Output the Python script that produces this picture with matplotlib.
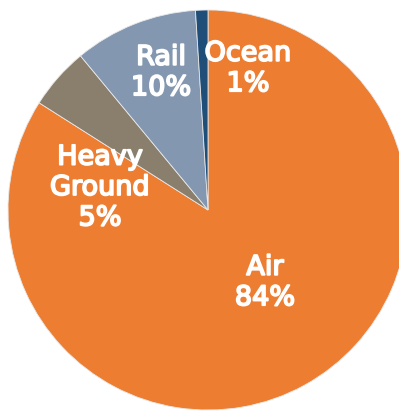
import matplotlib
matplotlib.use("Agg")
import matplotlib.pyplot as plt
import matplotlib.patheffects as pe

# shipment share by transport mode
modes = ["Air", "Heavy\nGround", "Rail", "Ocean"]
shares = [84, 5, 10, 1]
colors = ["#ED7D31", "#8A7F6D", "#8497B0", "#1F4E79"]

# label anchor points (pixels from top-left)
label_xy = [(265, 283), (100, 188), (161, 73), (248, 69)]

W, H = 399, 411
fig = plt.figure(figsize=(W / 100, H / 100), dpi=100)
ax = fig.add_axes([0, 0, 1, 1])
ax.set_xlim(0, W)
ax.set_ylim(0, H)
ax.axis("off")

ax.pie(shares, colors=colors, startangle=90, counterclock=False,
       center=(208, H - 210), radius=200,
       wedgeprops=dict(edgecolor="#E8E8E8", linewidth=0.6))
ax.set_xlim(0, W)
ax.set_ylim(0, H)

for m, s, (x, y) in zip(modes, shares, label_xy):
    t = ax.text(x, H - y, "%s\n%d%%" % (m, s), color="white", fontsize=19.5,
                family="DejaVu Sans", ha="center", va="center",
                linespacing=1.22)
    t.set_path_effects([pe.withStroke(linewidth=1.3, foreground="white")])

fig.savefig("out.png", dpi=100)
